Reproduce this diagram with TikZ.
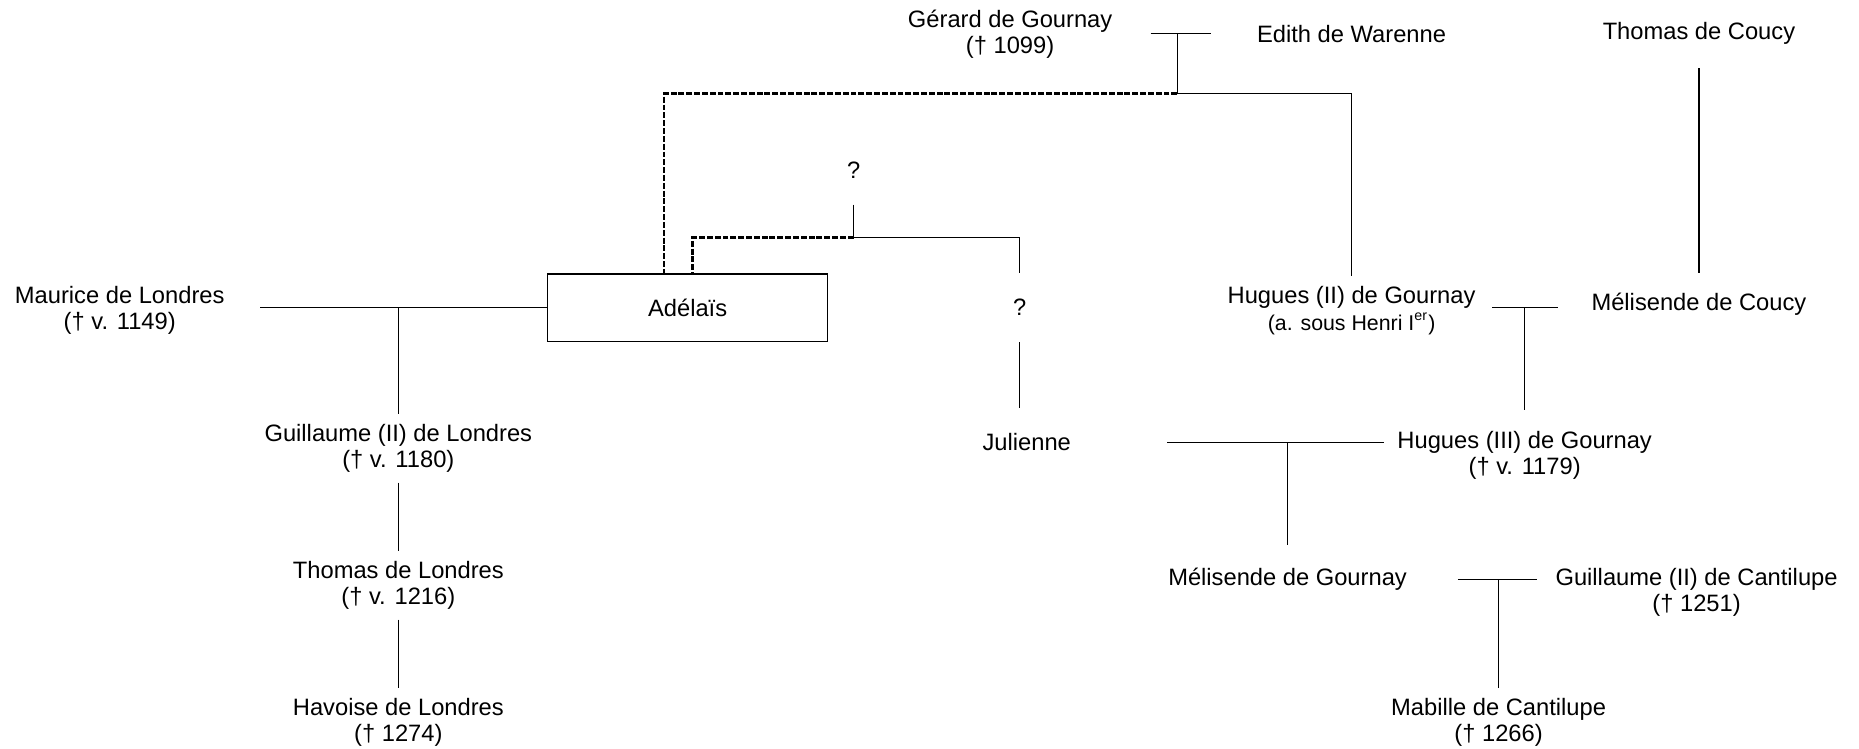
\documentclass[tikz,border=0pt]{standalone}
\usepackage{fontspec}
\setmainfont{Liberation Sans}

\begin{document}
\begin{tikzpicture}[x=0.5pt,y=-0.5pt,line width=0.55pt,
    person/.style={minimum width=118pt,minimum height=28.5pt,inner sep=0pt,
                   align=center,font=\fontsize{10}{11}\selectfont},
    doubt/.style={line width=1.1pt,dash pattern=on 2.5pt off 0.8pt}]
    \useasboundingbox (0,0) rectangle (1568,631);

    \node[person] (gerard) at (852,28.5) {Gérard de Gournay\\(† 1099)};
    \node[person] (edith) at (1140,28.5) {Edith de Warenne};
    \node[person] (thomasC) at (1433,28.5) {Thomas de Coucy};
    \node[person] (q1) at (720,143.5) {?};
    \node[person] (maurice) at (101,261.5) {Maurice de Londres\\(† v. 1149)};
    \node[person,draw] (adelais) at (580,259.5) {Adélaïs};
    \node[person] (q2) at (860,259.5) {?};
    \node[person] (hugues2) at (1140,262) {Hugues (II) de Gournay\\{\fontsize{9}{10}\selectfont (a. sous Henri I\textsuperscript{er})}};
    \node[person] (melisendeC) at (1433,256.5) {Mélisende de Coucy};
    \node[person] (guillaumeL) at (336,378) {Guillaume (II) de Londres\\(† v. 1180)};
    \node[person] (julienne) at (866,373) {Julienne};
    \node[person,minimum height=38pt] (hugues3) at (1286,384) {Hugues (III) de Gournay\\(† v. 1179)};
    \node[person] (thomasL) at (336,493.5) {Thomas de Londres\\(† v. 1216)};
    \node[person] (melisendeG) at (1086,488.5) {Mélisende de Gournay};
    \node[person] (guillaumeC) at (1431,499.5) {Guillaume (II) de Cantilupe\\(† 1251)};
    \node[person] (havoise) at (336,609.5) {Havoise de Londres\\(† 1274)};
    \node[person] (mabille) at (1264,609.5) {Mabille de Cantilupe\\(† 1266)};

    % mariages
    \draw (gerard.east) -- (edith.west);
    \draw (adelais.west -| maurice.east) -- (adelais.west);
    \draw (q2.east -| hugues2.east) -- (q2.east -| melisendeC.west);
    \draw (julienne.east) -- (julienne.east -| hugues3.west);
    \draw ([xshift=12.5pt]melisendeG.east) -- ([xshift=-7.5pt]melisendeG.east -| guillaumeC.west);

    % Gournay
    \coordinate (ge) at (993,79);
    \draw[doubt] (ge) -| ([xshift=-10pt]adelais.north);
    \draw (ge |- edith.west) -- (ge) -| (hugues2.north);

    % ? et ?
    \coordinate (qq) at (720,200.5);
    \draw[doubt] (qq) -| ([xshift=2pt]adelais.north);
    \draw (q1.south) -- (qq) -| (q2.north);
    \draw (q2.south) -- (q2.south |- julienne.north);

    % enfants
    \draw (guillaumeL.north) -- (guillaumeL.north |- adelais.west);
    \draw (guillaumeL) -- (thomasL);
    \draw (thomasL) -- (havoise);
    \draw (thomasC) -- (thomasC |- adelais.north);
    \draw (hugues3.north) -- (hugues3.north |- q2.east);
    \draw (melisendeG.north) -- (melisendeG.north |- julienne.east);
    \draw (mabille.north) -- (mabille.north |- melisendeG.east);

\end{tikzpicture}
\end{document}
